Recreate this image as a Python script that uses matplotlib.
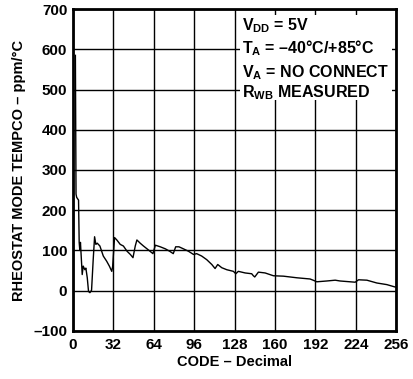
import matplotlib
matplotlib.use('Agg')
import matplotlib.pyplot as plt
from matplotlib.patches import Rectangle

plt.rcParams['font.family'] = 'Liberation Sans'
plt.rcParams['font.weight'] = 'bold'
plt.rcParams['axes.labelweight'] = 'bold'
plt.rcParams['mathtext.fontset'] = 'custom'
plt.rcParams['mathtext.rm'] = 'Liberation Sans:bold'
plt.rcParams['mathtext.bf'] = 'Liberation Sans:bold'
plt.rcParams['mathtext.it'] = 'Liberation Sans:bold'

# tempco trace, code vs ppm/degC
code = [2, 2.5, 3, 4.5, 5, 5.5, 6, 7.4, 8.2, 9.5, 10.3, 11.4, 12.4, 13.5, 14.8,
        16.1, 17.2, 18.2, 19.3, 21.4, 22.8, 24.1, 26.8, 28.9, 30.8, 31.5, 33,
        34.8, 37.5, 40, 42.9, 45.5, 47.6, 49.4, 50.7, 53.3, 55.9, 59.9, 63.4,
        65.3, 69.2, 73.2, 76.6, 79.5, 81.4, 84, 87.5, 91.5, 95.5, 98, 102, 106,
        110, 112.6, 114.7, 117.9, 121.9, 127.1, 129, 131, 136.4, 141.6, 142.9,
        144, 146.9, 152.2, 158.8, 166.7, 177.3, 187.8, 191, 193.1, 201, 207.7,
        211.6, 223.5, 226.2, 232.8, 240.7, 248.6, 255.2]
tempco = [585, 240, 232, 225, 120, 100, 120, 40, 61, 52, 56, 32, -2, -5, 1,
          77, 134, 115, 118, 111, 98, 86, 73, 61, 48, 60, 132,
          126, 115, 111, 98, 90, 82, 111, 126, 118, 111, 101, 92,
          113, 109, 104, 98, 92, 109, 109, 104, 98, 90, 92, 86, 77,
          65, 55, 65, 57, 52, 48, 42, 48, 44, 42, 37,
          34, 46, 44, 37, 36, 32, 29, 25, 22, 24, 26,
          24, 21, 27, 26, 19, 15, 9]

x_ticks = [0, 32, 64, 96, 128, 160, 192, 224, 256]
y_ticks = [-100, 0, 100, 200, 300, 400, 500, 600, 700]
y_labels = ['\u2013100', '0', '100', '200', '300', '400', '500', '600', '700']

notes = [r'$\mathbf{V_{DD}}$ = 5V',
         r'$\mathbf{T_{A}}$ = ' + '\u201340\u00b0C/+85\u00b0C',
         r'$\mathbf{V_{A}}$ = NO CONNECT',
         r'$\mathbf{R_{WB}}$ MEASURED']

fig = plt.figure(figsize=(4.14, 3.79), dpi=100)
ax = fig.add_axes([0.176, 0.127, 0.781, 0.849])

ax.plot(code, tempco, color='black', linewidth=1.0, zorder=3)

ax.set_xlim(0, 256)
ax.set_ylim(-100, 700)
ax.set_xticks(x_ticks)
ax.set_yticks(y_ticks)
ax.set_yticklabels(y_labels)
ax.tick_params(length=0, labelsize=11)
ax.tick_params(axis='x', pad=5)
ax.tick_params(axis='y', pad=4)
for lbl in ax.get_xticklabels() + ax.get_yticklabels():
    lbl.set_fontweight('bold')
ax.grid(True, color='black', linewidth=1.0)
ax.set_axisbelow(True)
for s in ax.spines.values():
    s.set_linewidth(2.0)

ax.set_xlabel('CODE \u2013 Decimal', fontsize=10.5, fontweight='bold', labelpad=2)
ax.set_ylabel('RHEOSTAT MODE TEMPCO \u2013 ppm/\u00b0C', fontsize=10.5,
              fontweight='bold', labelpad=5)

# white panel behind the conditions text
ax.add_patch(Rectangle((0.517, 0.717), 0.471, 0.264, transform=ax.transAxes,
                       facecolor='white', edgecolor='none', zorder=2))
ys = [0.935, 0.863, 0.789, 0.727]
for t, yy in zip(notes, ys):
    ax.text(0.522, yy, t, transform=ax.transAxes, fontsize=11.5, fontweight='bold',
            va='baseline', ha='left', zorder=4)

fig.savefig('out.png', dpi=100)
